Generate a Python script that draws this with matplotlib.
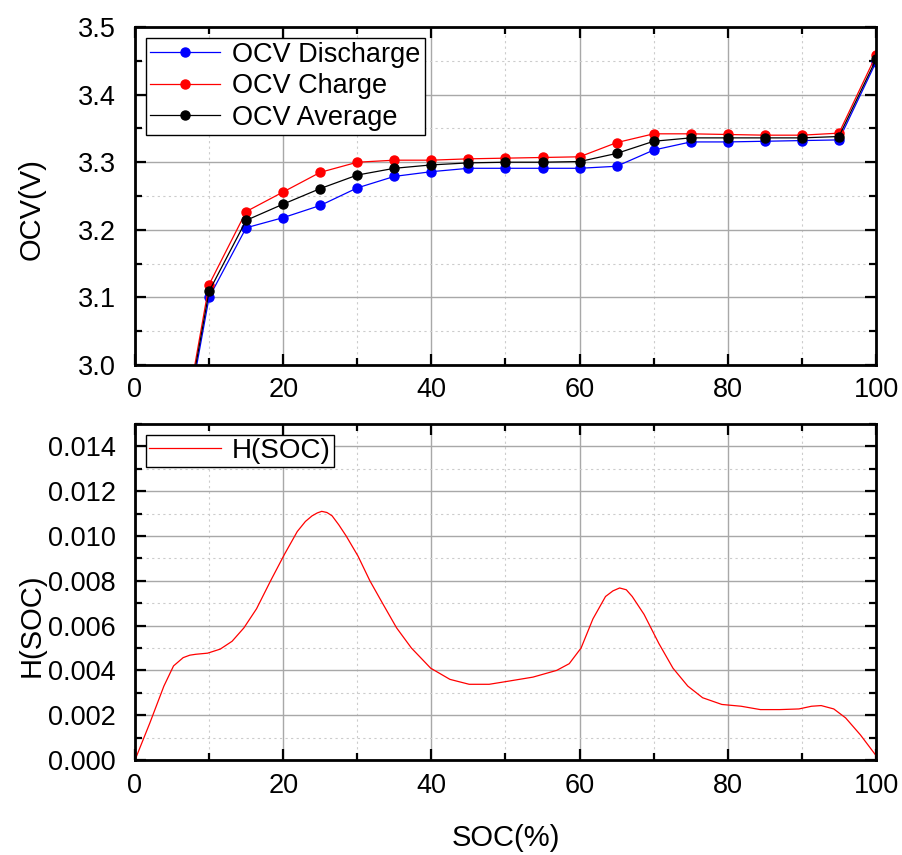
import numpy as np
import matplotlib
matplotlib.use("Agg")
import matplotlib.pyplot as plt
from matplotlib.ticker import MultipleLocator

plt.rcParams['font.family'] = ['Liberation Sans', 'DejaVu Sans']

# OCV vs SOC
soc_pts = [5, 10, 15, 20, 25, 30, 35, 40, 45, 50, 55, 60, 65, 70, 75, 80, 85, 90, 95, 100]
ocv_dis = [2.80, 3.100, 3.203, 3.218, 3.236, 3.262, 3.279, 3.286, 3.291, 3.291, 3.291, 3.291,
           3.294, 3.318, 3.330, 3.330, 3.331, 3.332, 3.333, 3.448]
ocv_chg = [2.81, 3.119, 3.227, 3.256, 3.285, 3.300, 3.303, 3.303, 3.305, 3.306, 3.307, 3.308,
           3.329, 3.342, 3.342, 3.341, 3.340, 3.340, 3.343, 3.458]
ocv_avg = [2.805, 3.109, 3.214, 3.238, 3.261, 3.281, 3.291, 3.296, 3.299, 3.300, 3.300, 3.301,
           3.313, 3.331, 3.336, 3.336, 3.336, 3.336, 3.338, 3.452]

# H(SOC) curve
h_soc = [0, 2.0, 3.9, 5.2, 6.5, 7.4, 8.2, 9.8, 11.5, 13.1, 14.7, 16.4, 18.3, 20.2, 21.9, 23.0,
         23.9, 24.6, 25.2, 25.9, 26.6, 27.5, 28.5, 30.1, 31.7, 33.4, 35.3, 37.3, 39.9, 42.5,
         45.1, 47.8, 50.4, 53.7, 56.9, 58.6, 60.2, 61.8, 63.5, 64.5, 65.4, 66.3, 67.1, 68.7,
         70.7, 72.6, 74.6, 76.6, 79.2, 81.8, 84.4, 87.0, 89.6, 91.3, 92.6, 94.3, 95.9, 97.9,
         100.0]
h_val = [0, 0.00165, 0.0033, 0.0042, 0.00457, 0.00468, 0.00472, 0.00477, 0.00495, 0.0053,
         0.0059, 0.00675, 0.0080, 0.0092, 0.0102, 0.01065, 0.0109, 0.01103, 0.0111, 0.01105,
         0.0109, 0.0105, 0.0100, 0.0091, 0.0080, 0.0070, 0.0059, 0.0050, 0.0041, 0.0036,
         0.00338, 0.00338, 0.00352, 0.0037, 0.0040, 0.0043, 0.0050, 0.0063, 0.0073, 0.00755,
         0.00768, 0.0076, 0.0073, 0.0065, 0.0052, 0.0041, 0.0033, 0.00278, 0.00248, 0.0024,
         0.00225, 0.00225, 0.00228, 0.0024, 0.00243, 0.00228, 0.00188, 0.00112, 0.0002]

fig = plt.figure(figsize=(9.03, 8.55), dpi=100)
ax1 = fig.add_axes([0.1495, 0.5731, 0.8206, 0.3953])
ax2 = fig.add_axes([0.1495, 0.1111, 0.8206, 0.3930])


def style(ax):
    ax.xaxis.set_major_locator(MultipleLocator(20))
    ax.xaxis.set_minor_locator(MultipleLocator(10))
    ax.grid(which='major', color='#a8a8a8', linewidth=1.0, linestyle='-')
    ax.grid(which='minor', color='#cccccc', linewidth=0.8, linestyle=(0, (2, 3)))
    ax.set_axisbelow(True)
    ax.tick_params(which='both', direction='in', top=True, right=True, labelsize=19.5,
                   width=1.6)
    ax.tick_params(axis='y', pad=14)
    ax.tick_params(axis='x', pad=9)
    ax.tick_params(which='major', length=8)
    ax.tick_params(which='minor', length=5)
    for s in ax.spines.values():
        s.set_linewidth(2.0)


ax1.plot(soc_pts, ocv_dis, '-o', color='blue', lw=0.9, ms=6.5, label='OCV Discharge')
ax1.plot(soc_pts, ocv_chg, '-o', color='red', lw=0.9, ms=6.5, label='OCV Charge')
ax1.plot(soc_pts, ocv_avg, '-o', color='black', lw=0.9, ms=6.5, label='OCV Average')
ax1.set_xlim(0, 100)
ax1.set_ylim(3.0, 3.5)
ax1.yaxis.set_major_locator(MultipleLocator(0.1))
ax1.yaxis.set_minor_locator(MultipleLocator(0.05))
ax1.yaxis.set_major_formatter(plt.FormatStrFormatter('%.1f'))
ax1.set_ylabel('OCV(V)', fontsize=21)
ax1.yaxis.set_label_coords(-0.12, 0.46)
style(ax1)
leg = ax1.legend(loc='upper left', fontsize=19.5, fancybox=False, edgecolor='black',
                 framealpha=1, borderaxespad=0.4, handlelength=2.6, labelspacing=0.2,
                 borderpad=0.15, handletextpad=0.45)
leg.get_frame().set_linewidth(1.0)

ax2.plot(h_soc, h_val, '-', color='red', lw=0.9, label='H(SOC)')
ax2.set_xlim(0, 100)
ax2.set_ylim(0, 0.015)
ax2.yaxis.set_major_locator(MultipleLocator(0.002))
ax2.yaxis.set_minor_locator(MultipleLocator(0.001))
ax2.yaxis.set_major_formatter(plt.FormatStrFormatter('%.3f'))
ax2.set_ylabel('H(SOC)', fontsize=21)
ax2.yaxis.set_label_coords(-0.12, 0.40)
ax2.set_xlabel('SOC(%)', fontsize=21, labelpad=18)
style(ax2)
leg2 = ax2.legend(loc='upper left', fontsize=20, fancybox=False, edgecolor='black',
                  framealpha=1, borderaxespad=0.4, handlelength=2.6, borderpad=0.1,
                  handletextpad=0.4)
leg2.get_frame().set_linewidth(1.0)

fig.savefig('out.png', dpi=100)
